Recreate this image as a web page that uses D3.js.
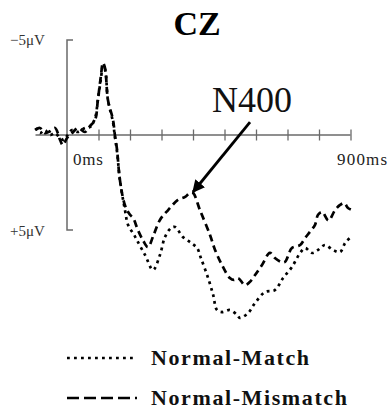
<!DOCTYPE html>
<html>
<head>
<meta charset="utf-8">
<script src="https://cdn.jsdelivr.net/npm/d3@7"></script>
<style>
  body { margin: 0; background: #fff; }
</style>
</head>
<body>
<script>
// ERP waveform at electrode CZ: time in ms, amplitude in microvolts (negative up)
const matchTimes = [-100, -86, -70, -54, -38, -22, -10, 0, 16, 35, 57, 73, 89, 98, 108, 114, 121, 130, 146, 152, 159, 168, 184, 194, 213, 225, 248, 273, 295, 311, 330, 343, 368, 394, 413, 425, 448, 464, 476, 492, 517, 540, 549, 575, 597, 629, 660, 686, 714, 740, 756, 778, 797, 819, 844, 867, 883, 898];
const matchValues = [-0.37, -0.1, -0.26, 0, -0.1, 0.16, 0.26, 0.05, -0.26, -0.16, -0.37, -0.42, -0.89, -1.84, -3.0, -3.63, -3.42, -1.84, -0.68, 0.1, 0.9, 2.37, 3.95, 4.74, 5.26, 5.63, 6.32, 7.1, 6.32, 5.37, 4.9, 4.84, 5.37, 5.68, 5.95, 6.47, 7.53, 8.42, 9.21, 9.32, 9.21, 9.47, 9.63, 9.37, 8.84, 8.26, 8.16, 7.53, 6.95, 6.21, 5.95, 6.21, 6.05, 5.79, 6.05, 6.16, 5.68, 5.42];

const mismatchTimes = [-100, -86, -70, -54, -38, -22, -13, 0, 16, 35, 57, 73, 89, 98, 108, 114, 121, 130, 146, 152, 159, 168, 184, 200, 210, 225, 241, 257, 275, 295, 321, 352, 375, 390, 400, 422, 454, 470, 492, 517, 530, 543, 565, 580, 597, 619, 644, 660, 680, 692, 714, 740, 756, 771, 787, 797, 810, 830, 851, 867, 880, 892, 905];
const mismatchValues = [-0.26, -0.37, -0.1, -0.2, -0.37, 0.26, 0.53, 0.16, -0.1, -0.37, -0.16, -0.47, -0.79, -1.84, -3.16, -3.8, -3.5, -1.84, -0.8, 0, 0.8, 2.37, 3.7, 4.2, 4.37, 5.0, 5.53, 5.9, 5.26, 4.47, 3.95, 3.42, 3.26, 3.05, 3.05, 3.95, 5.26, 6.05, 6.84, 7.53, 7.63, 7.53, 7.9, 7.74, 7.37, 6.84, 6.2, 6.47, 6.68, 6.68, 5.95, 5.79, 5.42, 5.1, 4.74, 4.2, 4.05, 4.5, 3.95, 3.68, 3.58, 3.84, 3.95];

const xTicks = [100, 200, 300, 400, 500, 600, 700, 800, 900];
const seriesNames = ["Normal-Match", "Normal-Mismatch"];

const canvWidth = 390, canvHeight = 414;
const svg = d3.select("body").append("svg")
    .attr("width", canvWidth)
    .attr("height", canvHeight);

const serif = "'Liberation Serif', 'Times New Roman', serif";

// scales: 0ms at x=67, -5uV at top
const xScale = d3.scaleLinear().domain([0, 900]).range([67, 350.5]);
const yScale = d3.scaleLinear().domain([-5, 5]).range([40, 230]);

const axisColor = "#6a6a6a";

// zero line with crossing ticks
svg.append("line")
    .attr("x1", xScale(-100)).attr("x2", xScale(900))
    .attr("y1", yScale(0)).attr("y2", yScale(0))
    .attr("stroke", axisColor).attr("stroke-width", 1.5);

const xAxis = d3.axisBottom(xScale).tickValues(xTicks).tickSize(11).tickFormat("");
const xg = svg.append("g")
    .attr("transform", "translate(0," + (yScale(0) - 5.5) + ")")
    .call(xAxis);
xg.select(".domain").remove();
xg.selectAll(".tick line").attr("stroke", axisColor).attr("stroke-width", 1.3);

// vertical axis with small end ticks
svg.append("path")
    .attr("d", "M" + (xScale(0) + 6) + "," + yScale(-5) + "H" + xScale(0) +
        "V" + yScale(5) + "H" + (xScale(0) + 6))
    .attr("fill", "none")
    .attr("stroke", axisColor).attr("stroke-width", 1.5);

// axis labels
svg.append("text").attr("x", 10).attr("y", 45)
    .attr("font-family", serif).attr("font-size", 15).attr("fill", "#333")
    .text("\u22125\u03bcV");
svg.append("text").attr("x", 10).attr("y", 236)
    .attr("font-family", serif).attr("font-size", 15).attr("fill", "#333")
    .text("+5\u03bcV");
svg.append("text").attr("x", 73).attr("y", 165)
    .attr("font-family", serif).attr("font-size", 17).attr("fill", "#222")
    .attr("letter-spacing", 0.8)
    .text("0ms");
svg.append("text").attr("x", 337).attr("y", 165)
    .attr("font-family", serif).attr("font-size", 17).attr("fill", "#222")
    .attr("letter-spacing", 1.2)
    .text("900ms");

// title
svg.append("text").attr("x", 197).attr("y", 35)
    .attr("font-family", serif).attr("font-size", 34).attr("font-weight", "bold")
    .style("text-anchor", "middle")
    .text("CZ");

// waveforms
const line = d3.line()
    .x(d => xScale(d[0]))
    .y(d => yScale(d[1]))
    .curve(d3.curveCatmullRom);

const matchData = d3.zip(matchTimes, matchValues);
const mismatchData = d3.zip(mismatchTimes, mismatchValues);

svg.append("path")
    .attr("d", line(matchData))
    .attr("fill", "none").attr("stroke", "#000")
    .attr("stroke-width", 2.7).attr("stroke-dasharray", "2.8,4");
svg.append("path")
    .attr("d", line(mismatchData))
    .attr("fill", "none").attr("stroke", "#000")
    .attr("stroke-width", 2.7).attr("stroke-dasharray", "7,4.5");

// N400 annotation
svg.append("text").attr("x", 212).attr("y", 112)
    .attr("font-family", serif).attr("font-size", 36).attr("fill", "#111")
    .text("N400");

svg.append("defs").append("marker")
    .attr("id", "arrow")
    .attr("viewBox", "0 0 10 10")
    .attr("refX", 9).attr("refY", 5)
    .attr("markerWidth", 4.5).attr("markerHeight", 4.5)
    .attr("orient", "auto")
    .append("path").attr("d", "M0,0L10,5L0,10z").attr("fill", "#000");

svg.append("line")
    .attr("x1", xScale(581)).attr("y1", yScale(-0.68))
    .attr("x2", xScale(400)).attr("y2", yScale(3.0))
    .attr("stroke", "#000").attr("stroke-width", 2.8)
    .attr("marker-end", "url(#arrow)");

// legend
const legend = svg.selectAll(".legend")
    .data(seriesNames)
    .enter().append("g")
    .attr("transform", (d, i) => "translate(0," + (i * 40) + ")");

legend.append("line")
    .attr("x1", 67).attr("x2", 137)
    .attr("y1", 358).attr("y2", 358)
    .attr("stroke", "#000").attr("stroke-width", 2.4)
    .attr("stroke-dasharray", (d, i) => i === 0 ? "2.8,4.2" : "12,5");

legend.append("text")
    .attr("x", 151).attr("y", 365)
    .attr("font-family", serif).attr("font-size", 22).attr("font-weight", "bold")
    .attr("letter-spacing", 1.6).attr("fill", "#111")
    .text(d => d);
</script>
</body>
</html>
